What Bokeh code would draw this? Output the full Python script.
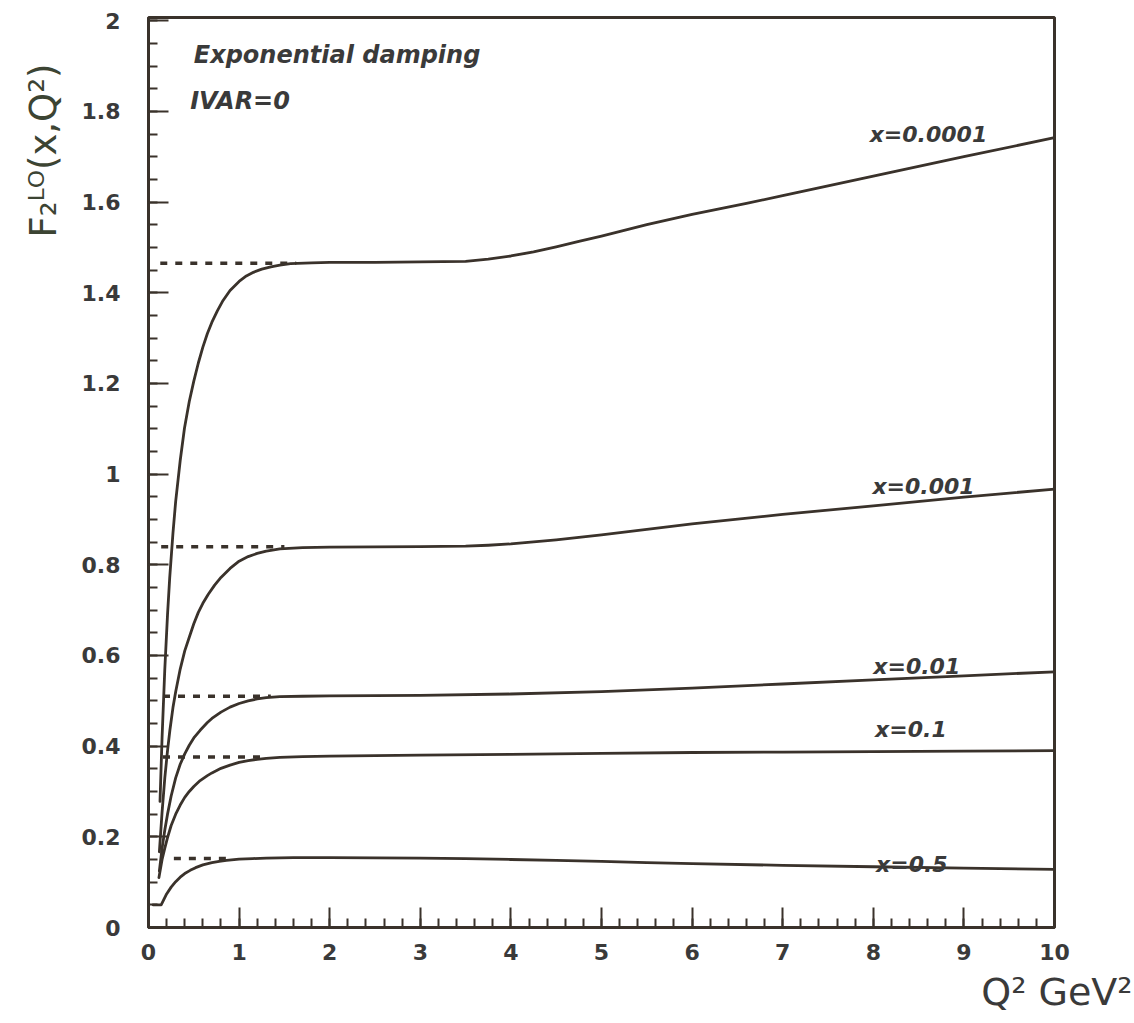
from bokeh.plotting import figure
from bokeh.models import FixedTicker, Range1d, Title
from bokeh.core.properties import value
from bokeh.embed import file_html
from bokeh.resources import INLINE

# ---------------- data ----------------
x_ticks = [0, 1, 2, 3, 4, 5, 6, 7, 8, 9, 10]
x_tick_labels = ["0", "1", "2", "3", "4", "5", "6", "7", "8", "9", "10"]
y_ticks = [0, 0.2, 0.4, 0.6, 0.8, 1, 1.2, 1.4, 1.6, 1.8, 2]
y_tick_labels = ["0", "0.2", "0.4", "0.6", "0.8", "1", "1.2", "1.4", "1.6", "1.8", "2"]

series_names = ["x=0.0001", "x=0.001", "x=0.01", "x=0.1", "x=0.5"]

q2_x0001 = [0.127, 0.15, 0.18, 0.21, 0.234, 0.27, 0.3, 0.35, 0.397, 0.45, 0.5, 0.55, 0.6, 0.65,
            0.7, 0.76, 0.823, 0.9, 1.0, 1.08, 1.158, 1.25, 1.35, 1.45, 1.567, 1.8, 2.0, 2.5,
            3.0, 3.5, 3.75, 4.0, 4.25, 4.5, 4.75, 5.0, 5.5, 6.0, 6.6, 7.0, 8.0, 9.0, 10.0]
f2_x0001 = [0.278, 0.42, 0.57, 0.69, 0.771, 0.87, 0.94, 1.03, 1.101, 1.16, 1.205, 1.245, 1.28, 1.31,
            1.335, 1.36, 1.383, 1.405, 1.425, 1.437, 1.445, 1.452, 1.457, 1.461, 1.464, 1.466, 1.467, 1.467,
            1.468, 1.469, 1.474, 1.481, 1.49, 1.501, 1.513, 1.525, 1.55, 1.573, 1.597, 1.614, 1.657, 1.70, 1.742]

q2_x001 = [0.12, 0.15, 0.18, 0.21, 0.236, 0.27, 0.3, 0.35, 0.4, 0.45, 0.5, 0.55, 0.6, 0.66,
           0.73, 0.8, 0.9, 1.0, 1.1, 1.2, 1.3, 1.45, 1.7, 2.0, 3.0, 3.5, 3.75, 4.0, 4.5,
           5.0, 5.5, 6.0, 7.0, 8.0, 9.0, 10.0]
f2_x001 = [0.167, 0.255, 0.33, 0.39, 0.435, 0.485, 0.52, 0.57, 0.61, 0.64, 0.67, 0.695, 0.715, 0.735,
           0.755, 0.772, 0.792, 0.808, 0.818, 0.825, 0.83, 0.835, 0.838, 0.839, 0.840, 0.841, 0.843, 0.846, 0.855,
           0.866, 0.878, 0.89, 0.911, 0.93, 0.949, 0.967]

q2_x01 = [0.12, 0.15, 0.18, 0.21, 0.25, 0.3, 0.35, 0.4, 0.45, 0.5, 0.57, 0.65, 0.7, 0.8,
          0.9, 1.0, 1.1, 1.2, 1.3, 1.45, 1.7, 2.0, 3.0, 4.0, 5.0, 6.0, 7.0, 8.0, 9.0, 10.0]
f2_x01 = [0.125, 0.175, 0.215, 0.25, 0.29, 0.33, 0.36, 0.383, 0.402, 0.418, 0.435, 0.452, 0.461, 0.475,
          0.486, 0.494, 0.5, 0.504, 0.507, 0.509, 0.51, 0.511, 0.512, 0.515, 0.520, 0.528, 0.537, 0.546, 0.555, 0.564]

q2_x1 = [0.115, 0.15, 0.18, 0.21, 0.25, 0.3, 0.35, 0.4, 0.45, 0.5, 0.57, 0.65, 0.7, 0.8,
         0.9, 1.0, 1.1, 1.2, 1.3, 1.45, 1.7, 2.0, 3.0, 4.0, 5.0, 6.0, 7.0, 8.0, 9.0, 10.0]
f2_x1 = [0.11, 0.15, 0.175, 0.198, 0.225, 0.25, 0.27, 0.287, 0.30, 0.311, 0.324, 0.335, 0.341, 0.351,
         0.358, 0.364, 0.368, 0.371, 0.373, 0.375, 0.377, 0.378, 0.380, 0.382, 0.384, 0.386, 0.387, 0.388, 0.389, 0.390]

q2_x5 = [0.05, 0.14, 0.17, 0.2, 0.25, 0.3, 0.35, 0.4, 0.46, 0.52, 0.6, 0.7, 0.78, 0.86, 1.0,
         1.15, 1.3, 1.6, 2.0, 3.0, 3.5, 4.0, 4.5, 5.0, 5.5, 6.0, 7.0, 8.0, 9.0, 10.0]
f2_x5 = [0.05, 0.05, 0.062, 0.074, 0.089, 0.101, 0.111, 0.119, 0.126, 0.132, 0.138, 0.143, 0.146, 0.148, 0.151,
         0.152, 0.153, 0.154, 0.154, 0.153, 0.152, 0.150, 0.148, 0.146, 0.143, 0.141, 0.137, 0.134, 0.131, 0.128]

# dashed asymptote levels (exponential damping limits) and their Q2 extent
damp_level = [1.465, 0.840, 0.510, 0.376, 0.152]
damp_q2_start = [0.13, 0.14, 0.16, 0.16, 0.28]
damp_q2_end = [1.63, 1.50, 1.35, 1.30, 0.88]

# curve label anchors (Q2, F2)
label_q2 = [7.96, 7.99, 8.0, 8.02, 8.03]
label_f2 = [1.748, 0.972, 0.575, 0.437, 0.138]

# ---------------- styling ----------------
INK = "#3a322b"
TXT = "#3a3a3a"
FONT = "DejaVu Sans"

p = figure(width=1134, height=1023, output_backend="svg", toolbar_location=None,
           x_range=Range1d(0, 10), y_range=Range1d(0, 2.007),
           min_border_left=148, min_border_right=80, min_border_top=17, min_border_bottom=96)
p.grid.visible = False
p.background_fill_color = "white"
p.border_fill_color = "white"
p.outline_line_color = INK
p.outline_line_width = 3

xa = p.xaxis[0]
xa.ticker = FixedTicker(ticks=x_ticks, minor_ticks=[i * 0.2 for i in range(51)])
xa.major_label_overrides = {t: l for t, l in zip(x_ticks, x_tick_labels)}
ya = p.yaxis[0]
ya.ticker = FixedTicker(ticks=y_ticks, minor_ticks=[i * 0.05 for i in range(41)])
ya.major_label_overrides = {t: l for t, l in zip(y_ticks, y_tick_labels)}

for ax in (xa, ya):
    ax.axis_line_color = INK
    ax.axis_line_width = 3
    ax.major_tick_line_color = INK
    ax.minor_tick_line_color = INK
    ax.major_tick_line_width = 2
    ax.minor_tick_line_width = 2
    ax.major_tick_in = 20
    ax.major_tick_out = 0
    ax.minor_tick_in = 9
    ax.minor_tick_out = 0
    ax.major_label_text_font = FONT
    ax.major_label_text_font_style = "bold"
    ax.major_label_text_font_size = "22px"
    ax.major_label_text_color = TXT
xa.major_label_standoff = 16
ya.major_label_standoff = 28

# curves
for q, f in [(q2_x0001, f2_x0001), (q2_x001, f2_x001), (q2_x01, f2_x01), (q2_x1, f2_x1), (q2_x5, f2_x5)]:
    p.line(q, f, line_color=INK, line_width=2.8, line_join="round", line_cap="round")

# dashed limits
p.segment(x0=damp_q2_start, y0=damp_level, x1=damp_q2_end, y1=damp_level,
          line_color=INK, line_width=3.5, line_dash="7 8")

# curve labels
p.text(x=label_q2, y=label_f2, text=series_names, text_font=value(FONT),
       text_font_style="bold italic", text_font_size="22px", text_color=TXT,
       text_align="left", text_baseline="alphabetic")

# annotations in the frame
p.text(x=[0.50, 0.46], y=[1.925, 1.823], text=["Exponential damping", "IVAR=0"],
       text_font=value(FONT), text_font_style="bold italic", text_font_size="24px",
       text_color=TXT, text_align="left", text_baseline="alphabetic")

# axis titles
p.add_layout(Title(text="F\u2082\u1d38\u1d3c(x,Q\u00b2)", align="right", offset=46, standoff=28,
                   text_font=FONT, text_font_size="37px", text_font_style="normal",
                   text_color="#3c4433"), "left")
p.add_layout(Title(text="Q\u00b2 GeV\u00b2", align="right", offset=-78, standoff=10,
                   text_font=FONT, text_font_size="38px", text_font_style="normal",
                   text_color=TXT), "below")

open("out.html", "w").write(file_html(p, INLINE))
